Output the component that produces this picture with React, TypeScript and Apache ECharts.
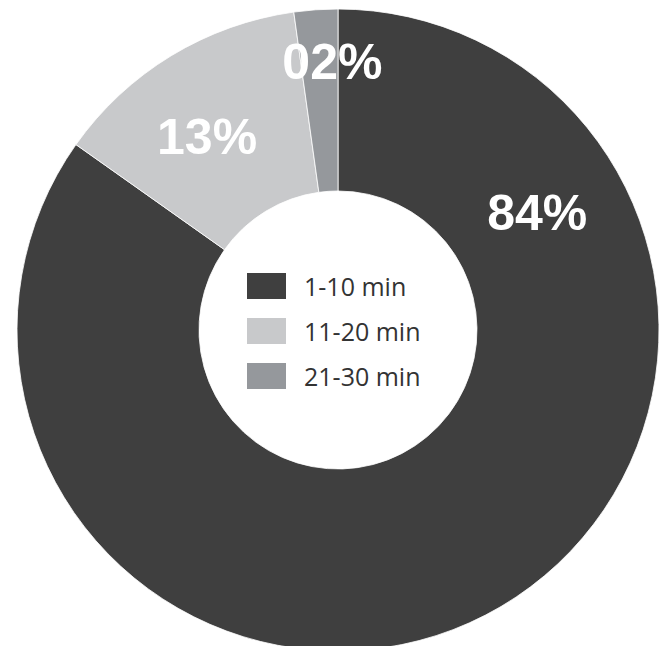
import React, { useEffect, useRef } from "react";
import * as echarts from "echarts";

const categories = ["1-10 min", "11-20 min", "21-30 min"];
const values = [84.8, 13.0, 2.2];
const valueLabels = ["84%", "13%", "02%"];
const colors = ["#3f3f3f", "#c8c9cb", "#95989c"];

// label placement in polar form around the pie centre (styling, not data)
const labelPolar = [
  { angle: 59.6, r: 231 },
  { angle: -34.1, r: 233.5 },
  { angle: -1.2, r: 268.5 },
];

const CENTER: [number, number] = [338, 330];
const RADII: [number, number] = [139, 321];

export default function App() {
  const ref = useRef<HTMLDivElement>(null);
  useEffect(() => {
    if (!ref.current) return;
    const chart = echarts.init(ref.current, null, { renderer: "svg" });
    chart.setOption({
      animation: false,
      backgroundColor: "#ffffff",
      legend: {
        orient: "vertical",
        left: 245,
        top: 271,
        padding: 0,
        itemWidth: 41,
        itemHeight: 28,
        itemGap: 15,
        icon: "rect",
        selectedMode: false,
        data: categories,
        textStyle: {
          fontFamily: "'Open Sans', 'Noto Sans', sans-serif",
          fontSize: 25,
          color: "#333333",
          padding: [0, 0, 0, 12],
        },
      },
      series: [
        {
          type: "pie",
          center: CENTER,
          radius: RADII,
          startAngle: 90,
          clockwise: true,
          silent: true,
          itemStyle: { borderColor: "#ffffff", borderWidth: 0.8 },
          label: {
            show: true,
            position: "inside",
            formatter: (p: any) => valueLabels[p.dataIndex],
            color: "#ffffff",
            fontFamily: "'Liberation Sans', Arial, sans-serif",
            fontWeight: "bold",
            fontSize: 50,
          },
          labelLine: { show: false },
          labelLayout: (params: any) => {
            const lp = labelPolar[params.dataIndex];
            const a = (lp.angle * Math.PI) / 180;
            return {
              x: CENTER[0] + lp.r * Math.sin(a),
              y: CENTER[1] - lp.r * Math.cos(a),
              align: "center",
              verticalAlign: "middle",
            };
          },
          data: categories.map((name, i) => ({
            name,
            value: values[i],
            itemStyle: { color: colors[i] },
          })),
        },
      ],
    });
    return () => chart.dispose();
  }, []);
  return (
    <div
      ref={ref}
      style={{ position: "fixed", left: 0, top: 0, width: 664, height: 646 }}
    />
  );
}
